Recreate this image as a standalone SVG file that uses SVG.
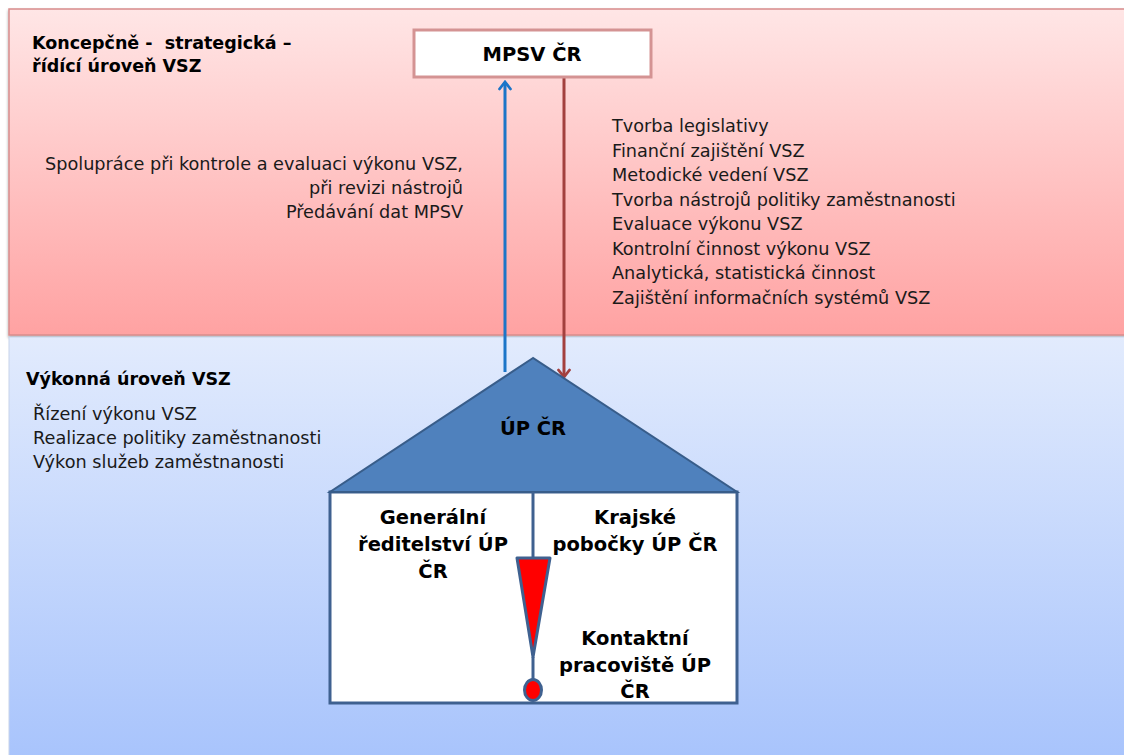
<svg xmlns="http://www.w3.org/2000/svg" width="1124" height="755" viewBox="0 0 1124 755">
<style>
  .t { font-family: "DejaVu Sans", Verdana, sans-serif; font-size: 17.7px; fill: #1a1a1a; }
  .b { font-family: "DejaVu Sans", Verdana, sans-serif; font-size: 17.5px; font-weight: bold; fill: #000; }
  .n { font-family: "DejaVu Sans", Verdana, sans-serif; font-size: 19.5px; font-weight: bold; fill: #000; text-anchor: middle; }
  .r { text-anchor: end; }
</style>
<defs>
  <linearGradient id="pink" x1="0" y1="0" x2="0" y2="1">
    <stop offset="0" stop-color="#FFE6E6"/>
    <stop offset="1" stop-color="#FFA2A2"/>
  </linearGradient>
  <linearGradient id="blue" x1="0" y1="0" x2="0" y2="1">
    <stop offset="0" stop-color="#E2EBFD"/>
    <stop offset="1" stop-color="#A7C3FC"/>
  </linearGradient>
  <filter id="sh" x="-5%" y="-5%" width="110%" height="115%">
    <feDropShadow dx="0" dy="2" stdDeviation="1.5" flood-color="#000" flood-opacity="0.35"/>
  </filter>
  <marker id="ab" viewBox="0 0 14 14" refX="12" refY="7" markerWidth="14" markerHeight="14" markerUnits="userSpaceOnUse" orient="auto">
    <path d="M5,1.5 L12,7 L5,12.5" fill="none" stroke="#1C75C8" stroke-width="2.8" stroke-linecap="round"/>
  </marker>
  <marker id="ar" viewBox="0 0 14 14" refX="12" refY="7" markerWidth="14" markerHeight="14" markerUnits="userSpaceOnUse" orient="auto">
    <path d="M5,1.5 L12,7 L5,12.5" fill="none" stroke="#A3403E" stroke-width="2.8" stroke-linecap="round"/>
  </marker>
</defs>

<rect x="0" y="0" width="1124" height="755" fill="#ffffff"/>

<g id="band-upper">
  <rect x="9" y="9" width="1130" height="326" fill="url(#pink)" stroke="#D88C8C" stroke-width="1.5" filter="url(#sh)"/>
</g>
<g id="band-lower">
  <rect x="9" y="337" width="1130" height="430" fill="url(#blue)" stroke="#C8D4EA" stroke-width="1"/>
</g>

<g id="label-upper">
  <text class="b" x="32" y="49" xml:space="preserve">Koncepčně -  strategická –</text>
  <text class="b" x="32" y="72">řídící úroveň VSZ</text>
</g>

<g id="label-lower">
  <text class="b" x="26" y="385">Výkonná úroveň VSZ</text>
  <text class="t" x="33" y="420">Řízení výkonu VSZ</text>
  <text class="t" x="33" y="444">Realizace politiky zaměstnanosti</text>
  <text class="t" x="33" y="468">Výkon služeb zaměstnanosti</text>
</g>

<g id="text-up">
  <text class="t r" x="463" y="170">Spolupráce při kontrole a evaluaci výkonu VSZ,</text>
  <text class="t r" x="463" y="194">při revizi nástrojů</text>
  <text class="t r" x="463" y="218">Předávání dat MPSV</text>
</g>

<g id="text-down">
  <text class="t" x="612" y="132">Tvorba legislativy</text>
  <text class="t" x="612" y="156.5">Finanční zajištění VSZ</text>
  <text class="t" x="612" y="181">Metodické vedení VSZ</text>
  <text class="t" x="612" y="205.5">Tvorba nástrojů politiky zaměstnanosti</text>
  <text class="t" x="612" y="230">Evaluace výkonu VSZ</text>
  <text class="t" x="612" y="254.5">Kontrolní činnost výkonu VSZ</text>
  <text class="t" x="612" y="279">Analytická, statistická činnost</text>
  <text class="t" x="612" y="303.5">Zajištění informačních systémů VSZ</text>
</g>

<g id="connectors">
  <line x1="505" y1="372" x2="505" y2="82" stroke="#1C75C8" stroke-width="3" marker-end="url(#ab)"/>
  <line x1="564" y1="78" x2="564" y2="377" stroke="#A3403E" stroke-width="3" marker-end="url(#ar)"/>
</g>

<g id="mpsv">
  <rect x="414" y="30" width="237" height="47" fill="#ffffff" stroke="#D49393" stroke-width="3"/>
  <text class="n" x="532" y="61">MPSV ČR</text>
</g>

<g id="up-cr">
  <rect x="330" y="492" width="407" height="211" fill="#ffffff" stroke="#3F6190" stroke-width="3"/>
  <polygon points="533,358 330,492 737,492" fill="#4F81BD" stroke="#385D8A" stroke-width="2"/>
  <text class="n" x="533" y="435">ÚP ČR</text>
</g>

<g id="generalni">
  <text class="n" x="433" y="524">Generální</text>
  <text class="n" x="433" y="551">ředitelství ÚP</text>
  <text class="n" x="433" y="578">ČR</text>
</g>

<g id="krajske">
  <text class="n" x="635" y="524">Krajské</text>
  <text class="n" x="635" y="551">pobočky ÚP ČR</text>
</g>

<g id="kontaktni">
  <text class="n" x="635" y="645">Kontaktní</text>
  <text class="n" x="635" y="672">pracoviště ÚP</text>
  <text class="n" x="635" y="698">ČR</text>
</g>

<g id="exclamation">
  <line x1="533" y1="492" x2="533" y2="558" stroke="#3F6190" stroke-width="3"/>
  <polygon points="517,558 550,558 533,657" fill="#FF0000" stroke="#3F6190" stroke-width="3" stroke-linejoin="round"/>
  <line x1="533" y1="657" x2="533" y2="680" stroke="#3F6190" stroke-width="3"/>
  <ellipse cx="533" cy="690" rx="8.5" ry="10.5" fill="#FF0000" stroke="#3F6190" stroke-width="3"/>
</g>
</svg>
